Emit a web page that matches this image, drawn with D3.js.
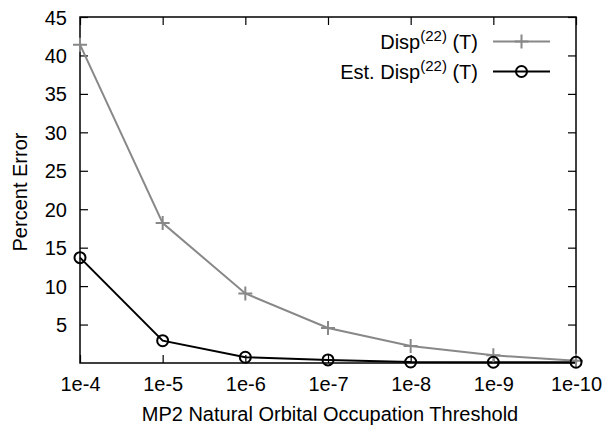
<!DOCTYPE html>
<html><head><meta charset="utf-8">
<script src="https://cdn.jsdelivr.net/npm/d3@7"></script>
<style>body{margin:0;background:#fff}text{font-family:"Liberation Sans",Arial,sans-serif}</style>
</head><body>
<svg id="c" width="602" height="426"></svg>
<script>
const categories = ["1e-4","1e-5","1e-6","1e-7","1e-8","1e-9","1e-10"];
const dispValues = [41.4, 18.2, 9.05, 4.55, 2.2, 1.0, 0.3];
const estValues = [13.7, 2.9, 0.75, 0.4, 0.13, 0.1, 0.1];
const yTicks = [5,10,15,20,25,30,35,40,45];

const svg = d3.select("#c");
const L=80,R=576,T=17,B=363;
const x = d3.scalePoint().domain(categories).range([L,R]);
const y = d3.scaleLinear().domain([0,45]).range([B,T]);
const fs = 20;

// frame
svg.append("rect").attr("x",L).attr("y",T).attr("width",R-L).attr("height",B-T)
  .attr("fill","none").attr("stroke","#000").attr("stroke-width",1.5);

// axes
const gx = svg.append("g").attr("transform",`translate(0,${B})`)
  .call(d3.axisBottom(x).tickSize(-8).tickPadding(14));
const gxt = svg.append("g").attr("transform",`translate(0,${T})`)
  .call(d3.axisTop(x).tickSize(-8).tickFormat(""));
const gy = svg.append("g").attr("transform",`translate(${L},0)`)
  .call(d3.axisLeft(y).tickValues(yTicks).tickSize(-8).tickPadding(13));
const gyr = svg.append("g").attr("transform",`translate(${R},0)`)
  .call(d3.axisRight(y).tickValues(yTicks).tickSize(-8).tickFormat(""));
[gx,gxt,gy,gyr].forEach(g=>{
  g.select(".domain").remove();
  g.selectAll("line").attr("stroke","#000").attr("stroke-width",1.2);
  g.selectAll("text").attr("font-size",fs).attr("fill","#000").style("font-family","Liberation Sans, Arial, sans-serif");
});
gy.selectAll("text").attr("dy","0.35em");

// labels
svg.append("text").attr("x",330).attr("y",421).attr("text-anchor","middle")
  .attr("font-size",fs).text("MP2 Natural Orbital Occupation Threshold");
svg.append("text").attr("transform",`translate(27,192) rotate(-90)`)
  .attr("text-anchor","middle").attr("font-size",fs).text("Percent Error");

const line = d3.line().x((d,i)=>x(categories[i])).y(d=>y(d));
const gray = "#888888";

svg.append("path").datum(dispValues).attr("d",line).attr("fill","none")
  .attr("stroke",gray).attr("stroke-width",2);
svg.append("path").datum(estValues).attr("d",line).attr("fill","none")
  .attr("stroke","#000").attr("stroke-width",2);

function plus(g,cx,cy,s,col){
  g.append("path").attr("d",`M${cx-s},${cy}H${cx+s}M${cx},${cy-s}V${cy+s}`)
   .attr("stroke",col).attr("stroke-width",2).attr("fill","none");
}
function circ(g,cx,cy,r){
  g.append("circle").attr("cx",cx).attr("cy",cy).attr("r",r)
   .attr("fill","none").attr("stroke","#000").attr("stroke-width",2);
}
dispValues.forEach((v,i)=>plus(svg,x(categories[i]),y(v),7,gray));
estValues.forEach((v,i)=>circ(svg,x(categories[i]),y(v),5.5));

// legend
const lx1=493,lx2=550,tx=478;
const leg = [{y:41.5,label:"Disp",col:gray,m:"p"},{y:71.5,label:"Est. Disp",col:"#000",m:"c"}];
leg.forEach(d=>{
  const t = svg.append("text").attr("x",tx).attr("y",d.y+7.5).attr("text-anchor","end").attr("font-size",fs);
  t.append("tspan").text(d.label);
  t.append("tspan").attr("dy",-8).attr("font-size",15).text("(22)");
  t.append("tspan").attr("dy",8).text(" (T)");
  svg.append("line").attr("x1",lx1).attr("x2",lx2).attr("y1",d.y).attr("y2",d.y)
    .attr("stroke",d.col).attr("stroke-width",2);
  if(d.m==="p") plus(svg,(lx1+lx2)/2,d.y,7,gray); else circ(svg,(lx1+lx2)/2,d.y,5.5);
});
</script>
</body></html>
